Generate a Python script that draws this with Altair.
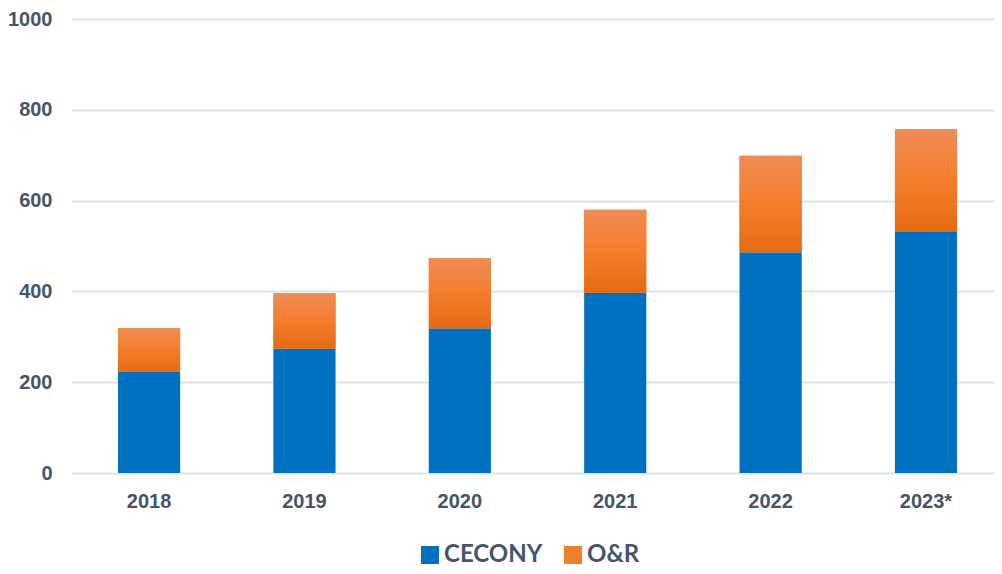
import altair as alt
import pandas as pd

years = ["2018", "2019", "2020", "2021", "2022", "2023*"]
cecony = [223, 274, 319, 397, 486, 531]
onr = [96, 122, 154, 183, 213, 226]
series = ["CECONY", "O&R"]
colors = ["#0070C0", "#F07F2A"]
y_ticks = [0, 200, 400, 600, 800, 1000]

rows = []
for yr, c, o in zip(years, cecony, onr):
    rows.append({"year": yr, "series": "CECONY", "start": 0, "end": c})
    rows.append({"year": yr, "series": "O&R", "start": c, "end": c + o})
df = pd.DataFrame(rows)

FONT = "Liberation Sans"
TXT = "#44546A"

x_enc = alt.X(
    "year:N",
    sort=years,
    title=None,
    scale=alt.Scale(paddingInner=0.6, paddingOuter=0.27, align=0.56),
    axis=alt.Axis(
        labelAngle=0, labelFont=FONT, labelFontSize=20, labelFontWeight="bold",
        labelColor=TXT, tickSize=0, domain=False, labelPadding=18, grid=False,
    ),
)
y_enc = alt.Y(
    "start:Q",
    title=None,
    scale=alt.Scale(domain=[0, 1000], nice=False),
    axis=alt.Axis(
        values=y_ticks, format="d", labelFont=FONT, labelFontSize=20,
        labelFontWeight="bold", labelColor=TXT, tickSize=0, domain=False,
        labelPadding=19, grid=True, gridColor="#DDE3EA", gridWidth=2,
    ),
)

base = alt.Chart(df).mark_bar().encode(
    x=x_enc,
    y=y_enc,
    y2="end:Q",
    color=alt.Color(
        "series:N",
        scale=alt.Scale(domain=series, range=colors),
        legend=alt.Legend(
            title=None, orient="none", direction="horizontal",
            legendX=347, legendY=524,
            symbolType="square", symbolSize=324, symbolStrokeWidth=0,
            labelFont="Lato", labelFontSize=24, labelFontWeight="bold",
            labelColor=TXT, labelOffset=2, columnPadding=18, padding=0,
        ),
    ),
)

grad = alt.LinearGradient(
    gradient="linear",
    stops=[
        alt.GradientStop(color="#EF8C55", offset=0),
        alt.GradientStop(color="#F47D2C", offset=0.5),
        alt.GradientStop(color="#E46A13", offset=1),
    ],
    x1=0, x2=0, y1=0, y2=1,
)

overlay = alt.Chart(df).transform_filter(
    alt.datum.series == "O&R"
).mark_bar(color=grad).encode(
    x=alt.X("year:N", sort=years),
    y="start:Q",
    y2="end:Q",
)

chart = alt.layer(base, overlay).properties(
    width=923,
    height=454,
    padding={"left": 63, "top": 11, "right": 0, "bottom": 93},
    autosize=alt.AutoSizeParams(type="none"),
    background="white",
).configure_view(stroke=None)

chart.save("out.html", embed_options={"renderer": "svg", "actions": False})
